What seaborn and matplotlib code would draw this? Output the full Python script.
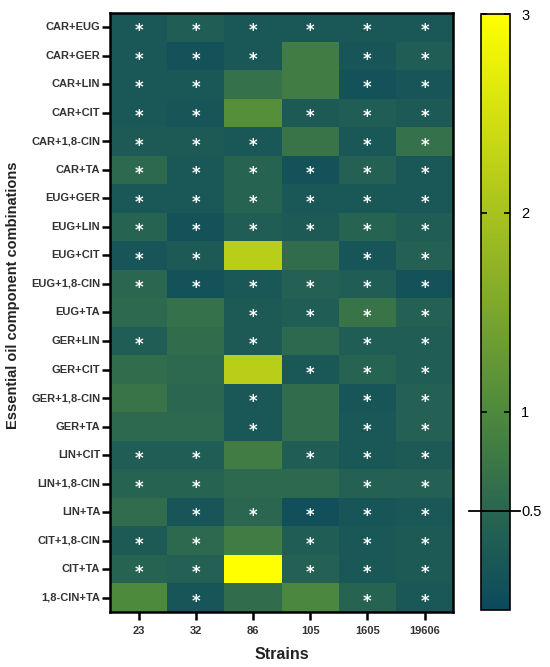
import numpy as np
import pandas as pd
import seaborn as sns
import matplotlib.pyplot as plt
from matplotlib.colors import LinearSegmentedColormap
import matplotlib.transforms as mtransforms

combos = [
    "CAR+EUG", "CAR+GER", "CAR+LIN", "CAR+CIT", "CAR+1,8-CIN", "CAR+TA",
    "EUG+GER", "EUG+LIN", "EUG+CIT", "EUG+1,8-CIN", "EUG+TA",
    "GER+LIN", "GER+CIT", "GER+1,8-CIN", "GER+TA",
    "LIN+CIT", "LIN+1,8-CIN", "LIN+TA",
    "CIT+1,8-CIN", "CIT+TA", "1,8-CIN+TA",
]
strains = ["23", "32", "86", "105", "1605", "19606"]

# estimated values per strain (column), one per combination
v23 = [0.25, 0.25, 0.25, 0.25, 0.30, 0.55, 0.25, 0.45, 0.20, 0.50, 0.55,
       0.35, 0.60, 0.70, 0.55, 0.35, 0.45, 0.60, 0.30, 0.45, 1.00]
v32 = [0.35, 0.15, 0.25, 0.20, 0.30, 0.25, 0.25, 0.15, 0.30, 0.15, 0.65,
       0.60, 0.55, 0.50, 0.55, 0.35, 0.45, 0.20, 0.55, 0.40, 0.20]
v86 = [0.25, 0.25, 0.65, 1.10, 0.25, 0.45, 0.45, 0.35, 2.20, 0.25, 0.30,
       0.30, 2.20, 0.25, 0.25, 0.80, 0.55, 0.50, 0.80, 3.00, 0.60]
v105 = [0.25, 0.80, 0.80, 0.30, 0.70, 0.15, 0.25, 0.30, 0.60, 0.40, 0.35,
        0.55, 0.25, 0.60, 0.60, 0.35, 0.55, 0.10, 0.35, 0.40, 0.95]
v1605 = [0.25, 0.20, 0.15, 0.35, 0.25, 0.40, 0.25, 0.45, 0.20, 0.35, 0.70,
         0.35, 0.45, 0.20, 0.25, 0.25, 0.40, 0.20, 0.25, 0.25, 0.45]
v19606 = [0.25, 0.35, 0.20, 0.30, 0.65, 0.25, 0.25, 0.35, 0.40, 0.15, 0.40,
          0.35, 0.35, 0.40, 0.40, 0.30, 0.40, 0.25, 0.30, 0.30, 0.25]

# significance marks (1 = asterisk)
s23 = [1, 1, 1, 1, 1, 1, 1, 1, 1, 1, 0, 1, 0, 0, 0, 1, 1, 0, 1, 1, 0]
s32 = [1, 1, 1, 1, 1, 1, 1, 1, 1, 1, 0, 0, 0, 0, 0, 1, 1, 1, 1, 1, 1]
s86 = [1, 1, 0, 0, 1, 1, 1, 1, 0, 1, 1, 1, 0, 1, 1, 0, 0, 1, 0, 0, 0]
s105 = [1, 0, 0, 1, 0, 1, 1, 1, 0, 1, 1, 0, 1, 0, 0, 1, 0, 1, 1, 1, 0]
s1605 = [1] * 21
s19606 = [1] * 21

df = pd.DataFrame({"23": v23, "32": v32, "86": v86, "105": v105,
                   "1605": v1605, "19606": v19606}, index=combos)
sig = pd.DataFrame({"23": s23, "32": s32, "86": s86, "105": s105,
                    "1605": s1605, "19606": s19606}, index=combos)
labels = sig.replace({1: "*", 0: ""})

cmap = LinearSegmentedColormap.from_list(
    "mic",
    [(0.0, "#0b4a5e"), (0.5 / 3, "#2a6650"), (1 / 3, "#4e8a3c"),
     (2 / 3, "#a8c21e"), (1.0, "#ffff00")],
)

plt.rcParams["font.family"] = ["Liberation Sans", "DejaVu Sans"]

fig = plt.figure(figsize=(5.5, 6.67), dpi=100)
ax = fig.add_axes([0.2, 0.0825, 0.624, 0.898])
cax = fig.add_axes([0.8745, 0.085, 0.053, 0.894])

sns.heatmap(
    df,
    ax=ax,
    cbar_ax=cax,
    cmap=cmap,
    vmin=0,
    vmax=3,
    annot=labels,
    fmt="",
    annot_kws={"color": "white", "fontsize": 12, "fontweight": "bold",
               "family": "DejaVu Sans"},
    cbar_kws={"ticks": [0.5, 1, 2, 3]},
)

# asterisks sit high in the glyph box, nudge them down
for t in ax.texts:
    t.set_transform(t.get_transform() + mtransforms.ScaledTranslation(0, -3 / 72, fig.dpi_scale_trans))

for s in ax.spines.values():
    s.set_visible(True)
    s.set_linewidth(1.8)
    s.set_color("black")

ax.tick_params(axis="y", length=6, width=1.8, color="black", labelsize=8, pad=1)
ax.tick_params(axis="x", length=6, width=1.8, color="black", labelsize=8, pad=4)
plt.setp(ax.get_yticklabels(), fontweight="bold", color="#333333", rotation=0)
plt.setp(ax.get_xticklabels(), fontweight="bold", color="#333333", rotation=0)
ax.set_xlabel("Strains", fontsize=11.5, fontweight="bold", color="#222222")
ax.set_ylabel("Essential oil component combinations", fontsize=10.5,
              fontweight="bold", color="#222222")
ax.xaxis.set_label_coords(0.5, -0.058)
ax.yaxis.set_label_coords(-0.262, 0.528)

cbar = ax.collections[0].colorbar
cbar.outline.set_edgecolor("black")
cbar.outline.set_linewidth(1.2)
cax.tick_params(direction="in", left=True, right=True, length=4, width=1.2,
                labelsize=10.5, pad=8)
cax.set_yticklabels(["0.5", "1", "2", "3"])
trans = mtransforms.blended_transform_factory(cax.transAxes, cax.transData)
cax.plot([-0.4, 1.35], [0.5, 0.5], color="black", lw=1.3,
         transform=trans, clip_on=False)

fig.savefig("out.png", dpi=100)
